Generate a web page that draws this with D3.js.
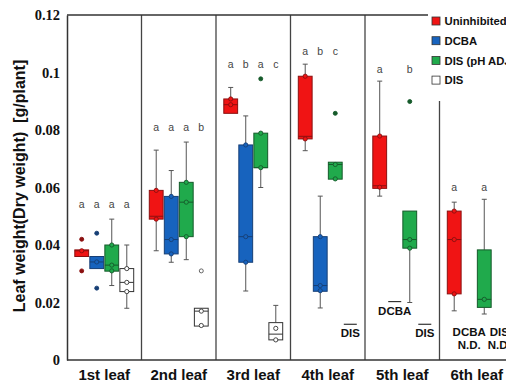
<!DOCTYPE html>
<html><head><meta charset="utf-8">
<script src="https://cdn.jsdelivr.net/npm/d3@7"></script>
<style>body{margin:0;background:#fff;} svg{display:block;}</style>
</head><body>
<svg id="c" width="506" height="383"></svg>
<script>
const leaves = ["1st leaf","2nd leaf","3rd leaf","4th leaf","5th leaf","6th leaf"];
const treatments = ["Uninhibited","DCBA","DIS (pH ADJ)","DIS"];
const colors = ["#f01414","#1763be","#20aa4c","#ffffff"];
const yTicks = [0,0.02,0.04,0.06,0.08,0.1,0.12];
const yTickLabels = ["0","0.02","0.04","0.06","0.08","0.1","0.12"];

// [lowerWhisker, q1, median, q3, upperWhisker] per leaf; null = absent
const uninhibitedBox = [[null,0.036,0.038,0.0383,null],[0.038,0.049,0.050,0.059,0.073],[null,0.0858,0.0888,0.0908,0.0948],[0.0728,0.0769,0.0778,0.0987,0.1029],[0.057,0.0597,0.0606,0.0779,0.097],[0.0171,0.023,0.0419,0.0518,0.0549]];
const dcbaBox = [[null,0.0318,0.0341,0.036,null],[0.034,0.0369,0.0419,0.0569,0.0659],[0.024,0.034,0.0429,0.0748,0.0849],[0.0181,0.0239,0.0259,0.0429,0.057],null,null];
const disAdjBox = [[0.0259,0.0309,0.033,0.040,0.049],[0.0349,0.0429,0.0549,0.0618,0.0758],[0.060,0.0669,0.0669,0.0789,null],[null,0.0629,0.068,0.0688,null],[0.020,0.0389,0.0419,0.0518,null],[0.016,0.0183,0.0211,0.0383,0.0559]];
const disBox = [[0.018,0.0238,0.027,0.0318,0.040],[null,0.0118,0.017,0.018,null],[null,0.007,0.009,0.013,0.019],null,null,null];

// sample points drawn as small circles on the boxes
const uninhibitedPts = [[0.038],[0.059,0.049],[0.0908,0.0888],[0.0987,0.0769],[0.0779,0.0601],[0.0518,0.0419,0.023]];
const dcbaPts = [[0.0341],[0.0569,0.0419,0.0369],[0.0748,0.0429,0.034],[0.0429,0.0259,0.0241],[],[]];
const disAdjPts = [[0.040,0.033,0.031],[0.0618,0.0549,0.0429],[0.0789,0.0669],[0.068,0.063],[0.0419,0.0389],[0.0211]];
const disPts = [[0.0318,0.027,0.0238],[0.017,0.012],[0.011,0.007],[],[],[]];

// outliers
const uninhibitedOut = [[0.042,0.031],[],[],[],[],[]];
const dcbaOut = [[0.0441,0.025],[],[],[],[],[]];
const disAdjOut = [[],[],[0.0978],[0.0858],[0.0899],[]];
const disOut = [[],[0.031],[],[],[],[]];

// significance letters per leaf per treatment
const sigLetters = [["a","a","a","a"],["a","a","a","b"],["a","b","a","c"],["a","b","c",""],["a","","b",""],["a","","a",""]];
const sigLevels = [0.0527,0.0797,0.1014,0.1061,0.0998,0.0588];

// not-detected labels: [leafIndex, treatmentIndex, text, level]
const ndLabels = [[3,3,"DIS",0.0079],[4,1,"DCBA",0.0158],[4,3,"DIS",0.0079],[5,1,"DCBA\nN.D.",0],[5,3,"DIS\nN.D.",0]];

const boxes = [uninhibitedBox,dcbaBox,disAdjBox,disBox];
const pts = [uninhibitedPts,dcbaPts,disAdjPts,disPts];
const outs = [uninhibitedOut,dcbaOut,disAdjOut,disOut];
const dark = ["#8a1010","#173f75","#155a2a","#333333"];

const svg = d3.select("#c");
const pLeft = 67, pRight = 514, pTop = 15, pBottom = 360;
const x = d3.scaleBand().domain(leaves).range([pLeft,pRight]).padding(0);
const bw = x.bandwidth();
const xs = d3.scaleBand().domain(treatments).range([7.8,bw-7.8]).paddingInner(0.08);
const y = d3.scaleLinear().domain([0,0.12]).range([pBottom,pTop]);

// dividers
svg.append("g").selectAll("line").data(leaves.slice(1)).join("line")
  .attr("x1",d=>x(d)).attr("x2",d=>x(d)).attr("y1",pTop).attr("y2",pBottom)
  .attr("stroke","#444").attr("stroke-width",1.3);

// axes frame
svg.append("line").attr("x1",pLeft).attr("x2",pRight).attr("y1",pTop).attr("y2",pTop).attr("stroke","#333").attr("stroke-width",1.5);
svg.append("line").attr("x1",pLeft).attr("x2",pRight).attr("y1",pBottom).attr("y2",pBottom).attr("stroke","#333").attr("stroke-width",1.5);

const yAxis = d3.axisLeft(y).tickValues(yTicks).tickFormat((d,i)=>yTickLabels[i]).tickSize(0).tickPadding(7);
const ga = svg.append("g").attr("transform",`translate(${pLeft},0)`).call(yAxis);
ga.select(".domain").attr("stroke","#333").attr("stroke-width",1.5);
ga.selectAll("text").attr("font-family","'Liberation Serif','Times New Roman',serif").attr("font-weight","bold").attr("font-size","14.5px").attr("fill","#111");

const xAxis = d3.axisBottom(x).tickSize(0).tickPadding(9);
const gx = svg.append("g").attr("transform",`translate(0,${pBottom})`).call(xAxis);
gx.select(".domain").remove();
gx.selectAll("text").attr("font-family","'Liberation Sans',Arial,sans-serif").attr("font-weight","bold").attr("font-size","15px").attr("fill","#111");

svg.append("text").attr("transform",`translate(25,186) rotate(-90)`)
  .attr("text-anchor","middle").attr("font-family","'Liberation Sans',Arial,sans-serif")
  .attr("font-weight","bold").attr("font-size","16px").attr("fill","#111")
  .attr("xml:space","preserve").text("Leaf weight(Dry weight)  [g/plant]");

const g = svg.append("g");
treatments.forEach((t,ti)=>{
  leaves.forEach((lf,li)=>{
    const cx0 = x(lf)+xs(t), w = xs.bandwidth(), cx = cx0+w/2;
    const b = boxes[ti][li];
    if(b){
      const [lo,q1,med,q3,hi] = b;
      const wc = "#555";
      if(hi!=null){
        g.append("line").attr("x1",cx).attr("x2",cx).attr("y1",y(hi)).attr("y2",y(q3)).attr("stroke",wc).attr("stroke-width",1);
        g.append("line").attr("x1",cx-2.5).attr("x2",cx+2.5).attr("y1",y(hi)).attr("y2",y(hi)).attr("stroke",wc).attr("stroke-width",1);
      }
      if(lo!=null){
        g.append("line").attr("x1",cx).attr("x2",cx).attr("y1",y(q1)).attr("y2",y(lo)).attr("stroke",wc).attr("stroke-width",1);
        g.append("line").attr("x1",cx-2.5).attr("x2",cx+2.5).attr("y1",y(lo)).attr("y2",y(lo)).attr("stroke",wc).attr("stroke-width",1);
      }
      g.append("rect").attr("x",cx0).attr("width",w).attr("y",y(q3)).attr("height",y(q1)-y(q3))
        .attr("fill",colors[ti]).attr("stroke",dark[ti]).attr("stroke-width",1);
      g.append("line").attr("x1",cx0).attr("x2",cx0+w).attr("y1",y(med)).attr("y2",y(med)).attr("stroke",dark[ti]).attr("stroke-width",1);
    }
    (pts[ti][li]||[]).forEach(v=>{
      g.append("circle").attr("cx",cx).attr("cy",y(v)).attr("r",2.1).attr("fill",colors[ti]).attr("stroke",dark[ti]).attr("stroke-width",0.9);
    });
    (outs[ti][li]||[]).forEach(v=>{
      g.append("circle").attr("cx",cx).attr("cy",y(v)).attr("r",2)
        .attr("fill",ti===3?"#fff":dark[ti]).attr("stroke",ti===3?"#555":dark[ti]).attr("stroke-width",0.9);
    });
    const s = sigLetters[li][ti];
    if(s){
      g.append("text").attr("x",cx).attr("y",y(sigLevels[li])).attr("text-anchor","middle")
        .attr("font-family","'Liberation Sans',Arial,sans-serif").attr("font-size","10.5px").attr("fill","#444").text(s);
    }
  });
});

// not detected labels
ndLabels.forEach(([li,ti,txt,lv])=>{
  const cx = x(leaves[li])+xs(treatments[ti])+xs.bandwidth()/2;
  const lines = txt.split("\n");
  if(lines.length===1){
    const by = y(lv);
    g.append("line").attr("x1",cx-6.5).attr("x2",cx+6.5).attr("y1",by-13).attr("y2",by-13).attr("stroke","#333").attr("stroke-width",1.2);
    g.append("text").attr("x",cx).attr("y",by).attr("text-anchor","middle")
      .attr("font-family","'Liberation Sans',Arial,sans-serif").attr("font-weight","bold").attr("font-size","11.5px").attr("fill","#111").text(lines[0]);
  } else {
    lines.forEach((l,k)=>{
      g.append("text").attr("x",cx).attr("y",335.5+k*13).attr("text-anchor","middle")
        .attr("font-family","'Liberation Sans',Arial,sans-serif").attr("font-weight","bold").attr("font-size","11.5px").attr("fill","#111").text(l);
    });
  }
});

// legend
const lg = svg.append("g");
lg.append("rect").attr("x",428).attr("y",13).attr("width",80).attr("height",88).attr("fill","#fff");
treatments.forEach((t,i)=>{
  const cy = 21+i*19.7;
  lg.append("rect").attr("x",432).attr("y",cy-4).attr("width",8).attr("height",8)
    .attr("fill",colors[i]).attr("stroke","#333").attr("stroke-width",0.8);
  lg.append("text").attr("x",444.5).attr("y",cy+4.2)
    .attr("font-family","'Liberation Sans',Arial,sans-serif").attr("font-weight","bold").attr("font-size","11.3px").attr("fill","#111").text(t);
});
</script>
</body></html>
